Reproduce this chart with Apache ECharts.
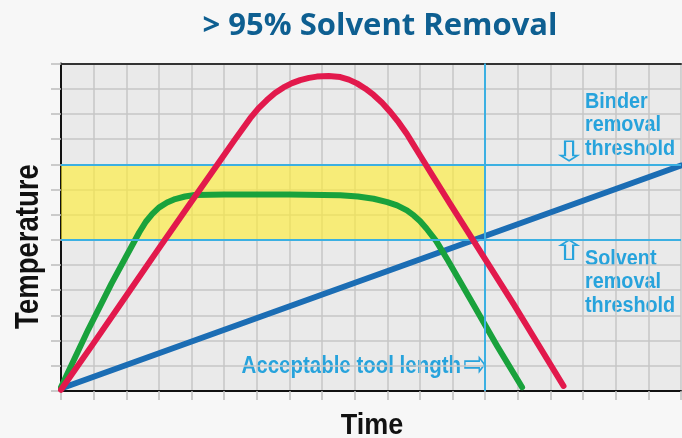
<!DOCTYPE html>
<html>
<head>
<meta charset="utf-8">
<script src="https://cdn.jsdelivr.net/npm/echarts@6/dist/echarts.min.js"></script>
<style>
html,body{margin:0;padding:0;background:#f7f7f7;}
#chart{width:682px;height:438px;}
</style>
</head>
<body>
<div id="chart"></div>
<script>
// grid units (time / temperature)
const xRange = [0, 19];
const yRange = [0, 13];
const solventThreshold = 6;
const binderThreshold = 9;
const toolLength = 13;

const binderCurve = [[0,0.1],[19,8.95]];
const redCurve = [[0,0.05],[1,1.9],[2,3.78],[3,5.66],[4,7.52],[4.8,9.0],[5.3,9.93],[5.8,10.83],[6.05,11.22],[6.31,11.55],[6.56,11.83],[6.82,12.05],[7.08,12.22],[7.33,12.34],[7.6,12.43],[7.84,12.48],[8.2,12.5],[8.56,12.46],[8.82,12.36],[9.07,12.21],[9.33,12.0],[9.58,11.75],[9.84,11.44],[10.09,11.08],[10.35,10.66],[10.6,10.2],[10.8,9.78],[11.01,9.34],[11.42,8.48],[11.93,7.42],[12.75,5.74],[13.87,3.45],[15.4,0.2]];
const greenCurve = [[0,0.15],[0.84,2.45],[1.55,4.27],[2.0,5.35],[2.4,6.3],[2.6,6.72],[2.8,7.03],[3.0,7.28],[3.25,7.48],[3.5,7.62],[3.8,7.72],[4.1,7.78],[5,7.8],[7,7.8],[8.56,7.77],[9.1,7.72],[9.58,7.63],[10.0,7.5],[10.3,7.37],[10.6,7.17],[10.81,6.97],[11.0,6.75],[11.2,6.45],[11.5,5.95],[11.85,5.2],[12.65,3.4],[13.37,1.78],[14.13,0.15]];

const titleText = '> 95% Solvent Removal';
const binderLabel = 'Binder\nremoval\nthreshold';
const solventLabel = 'Solvent\nremoval\nthreshold';
const toolLabel = 'Acceptable tool length';
const xName = 'Time';
const yName = 'Temperature';

const sans = '"Liberation Sans",Arial,sans-serif';
const annColor = '#27a3dc';
const threshColor = '#3cb0e2';

const chart = echarts.init(document.getElementById('chart'));
const gridLine = {color:'#c6c6c6', width:1.5};
const option = {
  backgroundColor:'#f7f7f7',
  animation:false,
  grid:{left:61, top:63.5, right:1, bottom:47, show:true, backgroundColor:'#eaeaea', borderWidth:0},
  xAxis:[{
    type:'value', min:xRange[0], max:xRange[1], interval:1,
    axisLine:{show:true, onZero:false, lineStyle:{color:'#111', width:2}},
    axisTick:{show:true, length:9, lineStyle:{color:'#bdbdbd', width:1.5}},
    axisLabel:{show:false},
    splitLine:{show:true, lineStyle:gridLine}
  },{
    type:'value', position:'top', min:xRange[0], max:xRange[1], interval:1,
    axisLine:{show:true, onZero:false, lineStyle:{color:'#333', width:2}},
    axisTick:{show:false}, axisLabel:{show:false}, splitLine:{show:false}
  }],
  yAxis:{
    type:'value', min:yRange[0], max:yRange[1], interval:1,
    axisLine:{show:true, onZero:false, lineStyle:{color:'#111', width:2}},
    axisTick:{show:true, length:10, lineStyle:{color:'#bdbdbd', width:1.5}},
    axisLabel:{show:false},
    splitLine:{show:true, lineStyle:gridLine}
  },
  series:[
    {
      type:'line', data:binderCurve, symbol:'none', z:3,
      lineStyle:{color:'#1b6db4', width:6, cap:'round'},
      markArea:{silent:true, itemStyle:{color:'rgba(255,238,50,0.62)'},
        data:[[{xAxis:0, yAxis:solventThreshold},{xAxis:toolLength, yAxis:binderThreshold}]]},
      markLine:{silent:true, symbol:'none', label:{show:false},
        lineStyle:{color:threshColor, width:2, type:'solid'},
        data:[{yAxis:solventThreshold},{yAxis:binderThreshold},{xAxis:toolLength}]}
    },
    {
      type:'line', data:greenCurve, symbol:'none', smooth:false, z:4,
      lineStyle:{color:'#19a23c', width:6, cap:'round', join:'round'}
    },
    {
      type:'line', data:redCurve, symbol:'none', smooth:false, z:5,
      lineStyle:{color:'#e2194c', width:6, cap:'round', join:'round'}
    }
  ],
  graphic:[
    {type:'text', x:380, y:26, style:{text:titleText, font:'bold 31px "Open Sans",sans-serif', fill:'#0e5f91', align:'center', verticalAlign:'middle'}},
    {type:'text', x:29, y:246.5, rotation:Math.PI/2, scaleX:0.81, style:{text:yName, font:'bold 34px '+sans, fill:'#111', align:'center', verticalAlign:'middle'}},
    {type:'text', x:372, y:426, scaleX:0.9, style:{text:xName, font:'bold 30px '+sans, fill:'#111', align:'center', verticalAlign:'middle'}},
    {type:'text', x:585, y:90, scaleX:0.9, style:{text:binderLabel, font:'bold 22px '+sans, lineHeight:23.5, fill:annColor}},
    {type:'text', x:585, y:247, scaleX:0.9, style:{text:solventLabel, font:'bold 22px '+sans, lineHeight:23.5, fill:annColor}},
    {type:'text', x:461, y:367, scaleX:0.89, style:{text:toolLabel, font:'bold 23px '+sans, fill:annColor, align:'right', verticalAlign:'middle'}},
    {type:'text', x:569, y:154, scaleX:1.6, style:{text:'\u21E9', font:'28px "DejaVu Sans"', fill:annColor, align:'center', verticalAlign:'middle'}},
    {type:'text', x:569, y:253, scaleX:1.6, style:{text:'\u21E7', font:'28px "DejaVu Sans"', fill:annColor, align:'center', verticalAlign:'middle'}},
    {type:'text', x:475, y:367, scaleY:1.3, style:{text:'\u21E8', font:'28px "DejaVu Sans"', fill:annColor, align:'center', verticalAlign:'middle'}}
  ]
};
chart.setOption(option);
</script>
</body>
</html>
